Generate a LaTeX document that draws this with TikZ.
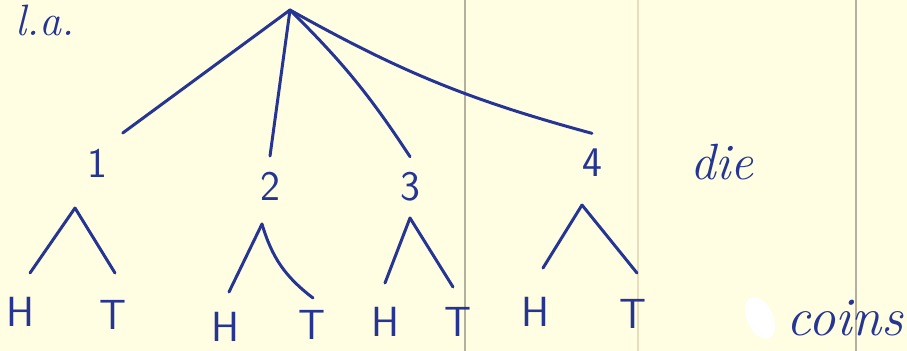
\documentclass[tikz,border=0pt]{standalone}
\usepackage{tikz}
\usetikzlibrary{positioning,calc}

\definecolor{ink}{RGB}{38,52,148}
\definecolor{paper}{RGB}{255,254,226}
\definecolor{ruling}{RGB}{180,176,160}
\definecolor{faintruling}{RGB}{232,222,190}

\tikzset{
  num/.style={ink, font=\fontsize{24}{28}\selectfont\sffamily, inner sep=2pt, outer sep=7pt},
  word/.style={ink, font=\fontsize{29}{32}\selectfont\itshape, inner sep=1pt},
  branch/.style={ink, line width=1.7pt, line cap=round, line join=round}
}

\begin{document}
\begin{tikzpicture}[x=0.02cm, y=-0.02cm]
    % paper
    \fill[paper] (0,0) rectangle (907,351);
    \useasboundingbox (0,0) rectangle (907,351);
    \draw[ruling, line width=0.7pt] (465,0) -- (465,351);
    \draw[faintruling, line width=0.6pt] (638,0) -- (638,351);
    \draw[ruling, line width=0.7pt] (856,0) -- (856,351);
    \fill[white, rotate around={25:(760,318)}] (760,318) ellipse (13 and 22);

    \node[word, font=\fontsize{25}{28}\selectfont\itshape] (title) at (45,20) {l.a.};
    \coordinate (root) at (290,10);

    % die outcomes
    \foreach \i/\x/\y in {1/97/163, 2/270/186, 3/410/187, 4/592/163} {
        \node[num] (d\i) at (\x,\y) {\i};
    }
    \node[word] (die) at (722,162) {die};

    \draw[branch] (root) -- (d1.north east);
    \draw[branch] (root) -- (d2.north);
    \draw[branch] (root) to[bend left=6] (d3.north);
    \draw[branch] (root) to[bend right=7] (d4.north);

    % coin outcomes under each die
    \foreach \i/\ax/\ay/\hx/\hy/\tx/\ty/\lx/\ly/\rx/\ry in {
        1/75/208/20/312/113/315/10/-39/2/-42,
        2/262/224/225/327/312/325/4/-35/1/-27,
        3/410/218/385/322/458/322/0/-39/-5/-35,
        4/582/205/535/312/633/314/8/-44/4/-41} {
        \coordinate (a\i) at (\ax,\ay);
        \node[num] (h\i) at (\hx,\hy) {H};
        \node[num] (t\i) at (\tx,\ty) {T};
        \coordinate (l\i) at ([shift={(\lx,\ly)}]h\i.center);
        \coordinate (r\i) at ([shift={(\rx,\ry)}]t\i.center);
        \draw[branch] (l\i) -- (a\i);
    }
    \draw[branch] (a1) -- (r1);
    \draw[branch] (a2) to[bend right=18] (r2);
    \draw[branch] (a3) -- (r3);
    \draw[branch] (a4) -- (r4);
    \node[word, font=\fontsize{31}{34}\selectfont\itshape] (coins) at (845,318) {coins};
\end{tikzpicture}
\end{document}
